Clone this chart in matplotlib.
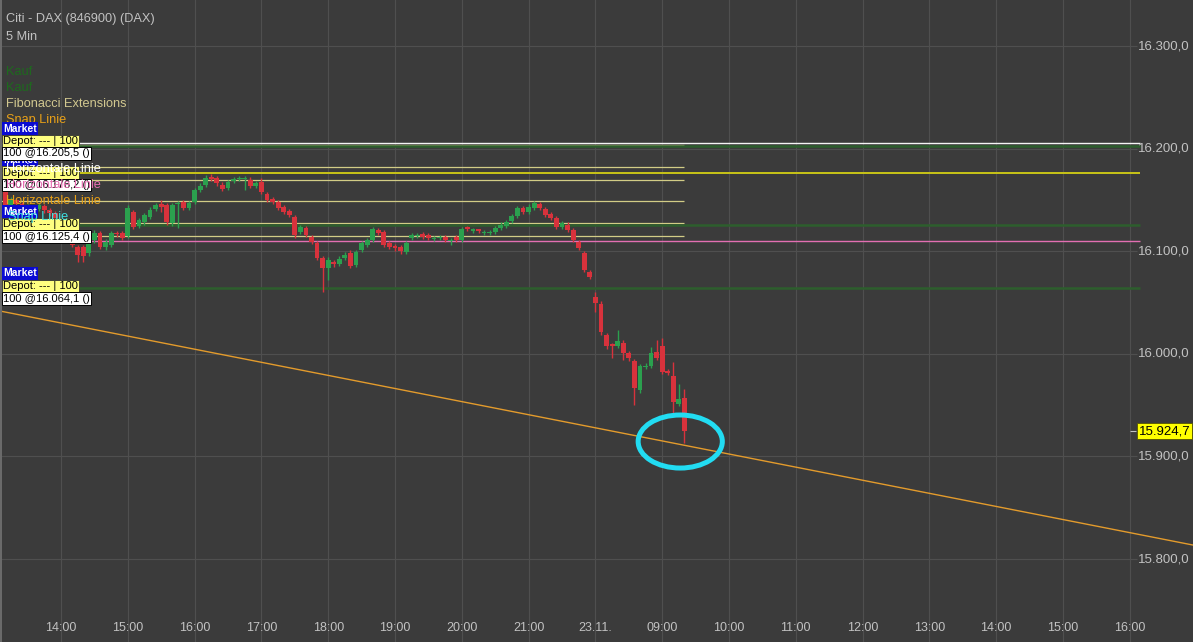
import matplotlib
matplotlib.use("Agg")
import matplotlib.pyplot as plt
from matplotlib.patches import Ellipse, Rectangle

# ---------------- data ----------------
# Day 1 (22.11.), 5-min candles starting 13:10
d1_open = [16160, 16145, 16150, 16146, 16140, 16143, 16141, 16144, 16140, 16137,
           16130, 16122, 16111, 16104, 16104, 16098, 16111, 16118, 16104, 16106,
           16118, 16118, 16115, 16138, 16125, 16128, 16133, 16141, 16146, 16145,
           16127, 16146, 16148, 16142, 16148, 16160, 16165, 16172, 16171, 16165,
           16162, 16168, 16170, 16170, 16169, 16164, 16167, 16156, 16151, 16148,
           16143, 16139, 16133, 16119, 16123, 16114, 16108, 16093, 16084, 16089,
           16088, 16093, 16098, 16087, 16101, 16106, 16111, 16121, 16119, 16108,
           16105, 16104, 16099, 16113, 16115, 16117, 16116, 16112, 16113, 16114,
           16110, 16114, 16111, 16123, 16120, 16121, 16118, 16118, 16119, 16123,
           16125, 16129, 16134, 16142, 16138, 16142, 16146, 16141, 16136, 16132,
           16124, 16126, 16121, 16109, 16098, 16080]
d1_high = [16163, 16153, 16152, 16148, 16146, 16145, 16147, 16146, 16142, 16139,
           16132, 16124, 16113, 16106, 16106, 16110, 16121, 16120, 16112, 16120,
           16120, 16120, 16145, 16140, 16132, 16137, 16143, 16147, 16150, 16147,
           16147, 16149, 16150, 16149, 16162, 16166, 16174, 16175, 16173, 16167,
           16169, 16172, 16173, 16173, 16172, 16168, 16171, 16158, 16153, 16150,
           16145, 16141, 16135, 16126, 16125, 16116, 16110, 16095, 16094, 16091,
           16095, 16099, 16101, 16101, 16110, 16113, 16124, 16123, 16121, 16110,
           16107, 16106, 16110, 16118, 16118, 16119, 16118, 16115, 16116, 16116,
           16113, 16116, 16124, 16125, 16123, 16122, 16121, 16121, 16125, 16128,
           16130, 16136, 16144, 16144, 16146, 16149, 16148, 16143, 16138, 16134,
           16129, 16128, 16123, 16111, 16100, 16082]
d1_low = [16140, 16142, 16143, 16137, 16138, 16138, 16139, 16137, 16134, 16127,
          16120, 16109, 16104, 16089, 16089, 16095, 16108, 16102, 16101, 16104,
          16114, 16111, 16113, 16122, 16123, 16126, 16131, 16139, 16138, 16126,
          16125, 16123, 16140, 16140, 16146, 16158, 16163, 16168, 16164, 16159,
          16160, 16166, 16168, 16160, 16162, 16162, 16156, 16148, 16146, 16140,
          16136, 16133, 16113, 16117, 16114, 16107, 16091, 16060, 16072, 16085,
          16086, 16091, 16084, 16085, 16099, 16104, 16109, 16116, 16104, 16102,
          16100, 16097, 16097, 16111, 16113, 16112, 16111, 16110, 16111, 16109,
          16106, 16109, 16109, 16120, 16118, 16118, 16116, 16116, 16117, 16121,
          16123, 16127, 16132, 16136, 16136, 16140, 16140, 16133, 16130, 16122,
          16122, 16119, 16109, 16101, 16080, 16073]
d1_close = [16145, 16150, 16146, 16140, 16143, 16141, 16145, 16140, 16137, 16130,
            16122, 16112, 16106, 16096, 16095, 16108, 16118, 16104, 16109, 16118,
            16117, 16113, 16142, 16124, 16130, 16135, 16140, 16145, 16143, 16128,
            16145, 16147, 16142, 16147, 16160, 16164, 16171, 16170, 16166, 16161,
            16167, 16170, 16171, 16171, 16164, 16166, 16158, 16150, 16148, 16142,
            16138, 16135, 16116, 16124, 16116, 16109, 16093, 16084, 16091, 16088,
            16092, 16096, 16086, 16099, 16108, 16111, 16122, 16118, 16106, 16104,
            16103, 16100, 16108, 16116, 16116, 16114, 16113, 16113, 16114, 16111,
            16111, 16111, 16122, 16122, 16121, 16120, 16119, 16119, 16123, 16126,
            16128, 16134, 16142, 16138, 16143, 16147, 16142, 16135, 16132, 16124,
            16127, 16121, 16111, 16103, 16082, 16075]

# Day 2 (23.11.), 5-min candles starting 08:00
d2_open = [16055, 16049, 16018, 16009, 16008, 16011, 16001, 15993, 15965, 15987,
           15988, 16002, 16008, 15983, 15978, 15951, 15957]
d2_high = [16060, 16051, 16020, 16011, 16023, 16013, 16003, 15995, 15990, 15991,
           16007, 16013, 16015, 15985, 15992, 15971, 15966]
d2_low = [16041, 16018, 16005, 15996, 16006, 15994, 15993, 15950, 15962, 15985,
          15986, 15994, 15980, 15979, 15942, 15949, 15913]
d2_close = [16050, 16021, 16008, 16008, 16012, 16001, 15996, 15967, 15988, 15988,
            16001, 15996, 15982, 15981, 15953, 15956, 15924.7]

d1_start_hour = 13 + 10 / 60     # session axis position of first candle
d2_start_hour = 22.0             # 08:00 of 23.11. sits at session position 22
candle_step = 5 / 60

x_tick_pos = list(range(14, 31))
x_tick_labels = ["14:00", "15:00", "16:00", "17:00", "18:00", "19:00", "20:00",
                 "21:00", "23.11.", "09:00", "10:00", "11:00", "12:00", "13:00",
                 "14:00", "15:00", "16:00"]
y_ticks = [15800, 15900, 16000, 16100, 16200, 16300]
last_price = 15924.7

# drawn objects (price levels)
white_level = 16205.5
yellow_level = 16175.9
pink_level = 16110.2
green_levels = [16202.5, 16125.4, 16064.1]
fib_levels = [16203.6, 16182.4, 16169.4, 16148.9, 16127.2, 16114.8]
trend_start, trend_end = 16041.7, 15813.6
circle_center = (23.27, 15914.5)
circle_size = (1.26, 51.7)

# ---------------- layout ----------------
W, H = 1193, 642
PX_PER_HOUR = 66.8
PX_PER_POINT = 1.026
X_REF_PX, Y_REF_PX = 61, 46   # pixel of 14:00 and of 16.300
X0 = 14 - X_REF_PX / PX_PER_HOUR
X1 = 14 + (W - X_REF_PX) / PX_PER_HOUR
Y_TOP = 16300 + Y_REF_PX / PX_PER_POINT
Y_BOT = 16300 - (H - Y_REF_PX) / PX_PER_POINT

def hx(px):
    return X0 + px / PX_PER_HOUR

BG = "#3b3b3b"
GRID = "#4f4f4f"
TXT = "#c2c2c2"
RED = "#d8323c"
GREEN = "#2ba04e"

plt.rcParams["font.family"] = ["Liberation Sans", "DejaVu Sans"]

fig = plt.figure(figsize=(W / 100, H / 100), dpi=100, facecolor=BG)
ax = fig.add_axes([0, 0, 1, 1])
ax.set_facecolor(BG)
ax.set_xlim(X0, X1)
ax.set_ylim(Y_BOT, Y_TOP)
ax.axis("off")

def fpx(x, y):
    return (x / W, 1 - y / H)

# grid
for t in x_tick_pos:
    ax.axvline(t, color=GRID, lw=0.8, zorder=0)
ax.hlines(y_ticks, X0, hx(1137), color=GRID, lw=0.8, zorder=0)

# x tick labels
for t, lab in zip(x_tick_pos, x_tick_labels):
    ax.text(t, Y_BOT + (H - 628) / PX_PER_POINT, lab, color=TXT, fontsize=9,
            ha="center", va="center", zorder=5)

# y tick labels (German format)
def de(v):
    s = f"{v:,.1f}"
    return s.replace(",", "X").replace(".", ",").replace("X", ".")

for v in y_ticks:
    ax.text(hx(1138), v, de(v), color=TXT, fontsize=9.5, ha="left", va="center",
            zorder=5)

# horizontal drawings
fib_end = d2_start_hour + candle_step * (len(d2_close) - 1)
ax.hlines(fib_levels, X0, fib_end, color="#d2cc86", lw=0.9, zorder=2)
ax.hlines(green_levels, X0, hx(1140), color="#2d5e2d", lw=1.8, zorder=2)
ax.hlines(white_level, X0, hx(1140), color="#f4f4f4", lw=1.0, zorder=3)
ax.hlines(yellow_level, X0, hx(1140), color="#c8c418", lw=1.4, zorder=3)
ax.hlines(pink_level, X0, hx(1140), color="#e36fb2", lw=1.0, zorder=3)

# trend line
ax.plot([X0, X1], [trend_start, trend_end], color="#e39b2c", lw=1.0, zorder=3)

# candles
def candles(start, o, h, l, c):
    for i, (oo, hh, ll, cc) in enumerate(zip(o, h, l, c)):
        t = start + i * candle_step
        col = GREEN if cc >= oo else RED
        ax.vlines(t, ll, hh, color=col, lw=1.0, zorder=4)
        body = max(abs(cc - oo), 1.2)
        ax.bar(t, body, bottom=min(oo, cc), width=0.072, color=col,
               edgecolor="none", zorder=4)

candles(d1_start_hour, d1_open, d1_high, d1_low, d1_close)
candles(d2_start_hour, d2_open, d2_high, d2_low, d2_close)

# hand drawn circle
ax.add_patch(Ellipse(circle_center, circle_size[0], circle_size[1], fill=False,
                     ec="#22dcf2", lw=3.6, zorder=6))

# last price label
ax.text(hx(1139), last_price, de(last_price), color="black", fontsize=9.5,
        ha="left", va="center", zorder=7,
        bbox=dict(boxstyle="square,pad=0.12", fc="#ffff00", ec="#555500", lw=0.6))
ax.hlines(last_price, hx(1130), hx(1136), color=TXT, lw=0.8, zorder=5)

# header texts
fig.text(*fpx(6, 19), "Citi - DAX (846900) (DAX)", color=TXT, fontsize=9.2,
         va="center", ha="left")
fig.text(*fpx(6, 37), "5 Min", color=TXT, fontsize=9.2, va="center", ha="left")
fig.text(*fpx(6, 72), "Kauf", color="#1e6a1e", fontsize=9.2, va="center", ha="left")
fig.text(*fpx(6, 88), "Kauf", color="#1e6a1e", fontsize=9.2, va="center", ha="left")
fig.text(*fpx(6, 104), "Fibonacci Extensions", color="#d2c890", fontsize=9.2,
         va="center", ha="left")
fig.text(*fpx(6, 120), "Snap Linie", color="#e8a018", fontsize=9.2,
         va="center", ha="left")

# order label boxes
def order_group(y_market, price_text, z):
    fig.text(*fpx(3, y_market), "Market", color="white", fontsize=7.5,
             fontweight="bold", va="center", ha="left", zorder=z,
             bbox=dict(boxstyle="square,pad=0.12", fc="#0a0ad2", ec="none"))
    fig.text(*fpx(3, y_market + 12.5), "Depot: --- | 100", color="black",
             fontsize=8, va="center", ha="left", zorder=z,
             bbox=dict(boxstyle="square,pad=0.1", fc="#ffff80", ec="#333333", lw=0.6))
    fig.text(*fpx(3, y_market + 25), price_text, color="black", fontsize=8,
             va="center", ha="left", zorder=z,
             bbox=dict(boxstyle="square,pad=0.1", fc="white", ec="black", lw=0.7))

order_group(160, "100 @16.176,2 ()", 8)
order_group(128.5, "100 @16.205,5 ()", 9)
order_group(211.5, "100 @16.125,4 ()", 8)
order_group(273.5, "100 @16.064,1 ()", 8)

fig.text(*fpx(6, 169), "Horizontale Linie", color="white", fontsize=9.2,
         va="center", ha="left", zorder=10)
fig.text(*fpx(6, 185), "Horizontale Linie", color="#e86fb4", fontsize=9.2,
         va="center", ha="left", zorder=10)
fig.text(*fpx(6, 201), "Horizontale Linie", color="#e8a018", fontsize=9.2,
         va="center", ha="left", zorder=10)
fig.text(*fpx(8, 217), "Snap Linie", color="#3ee0e0", fontsize=9.2,
         va="center", ha="left", zorder=10)

# frame edge
fig.patches.append(Rectangle((0, 0), 2 / W, 1, transform=fig.transFigure,
                             fc="#6a6a6a", ec="none", zorder=1))

fig.savefig("out.png", dpi=100, facecolor=BG)
